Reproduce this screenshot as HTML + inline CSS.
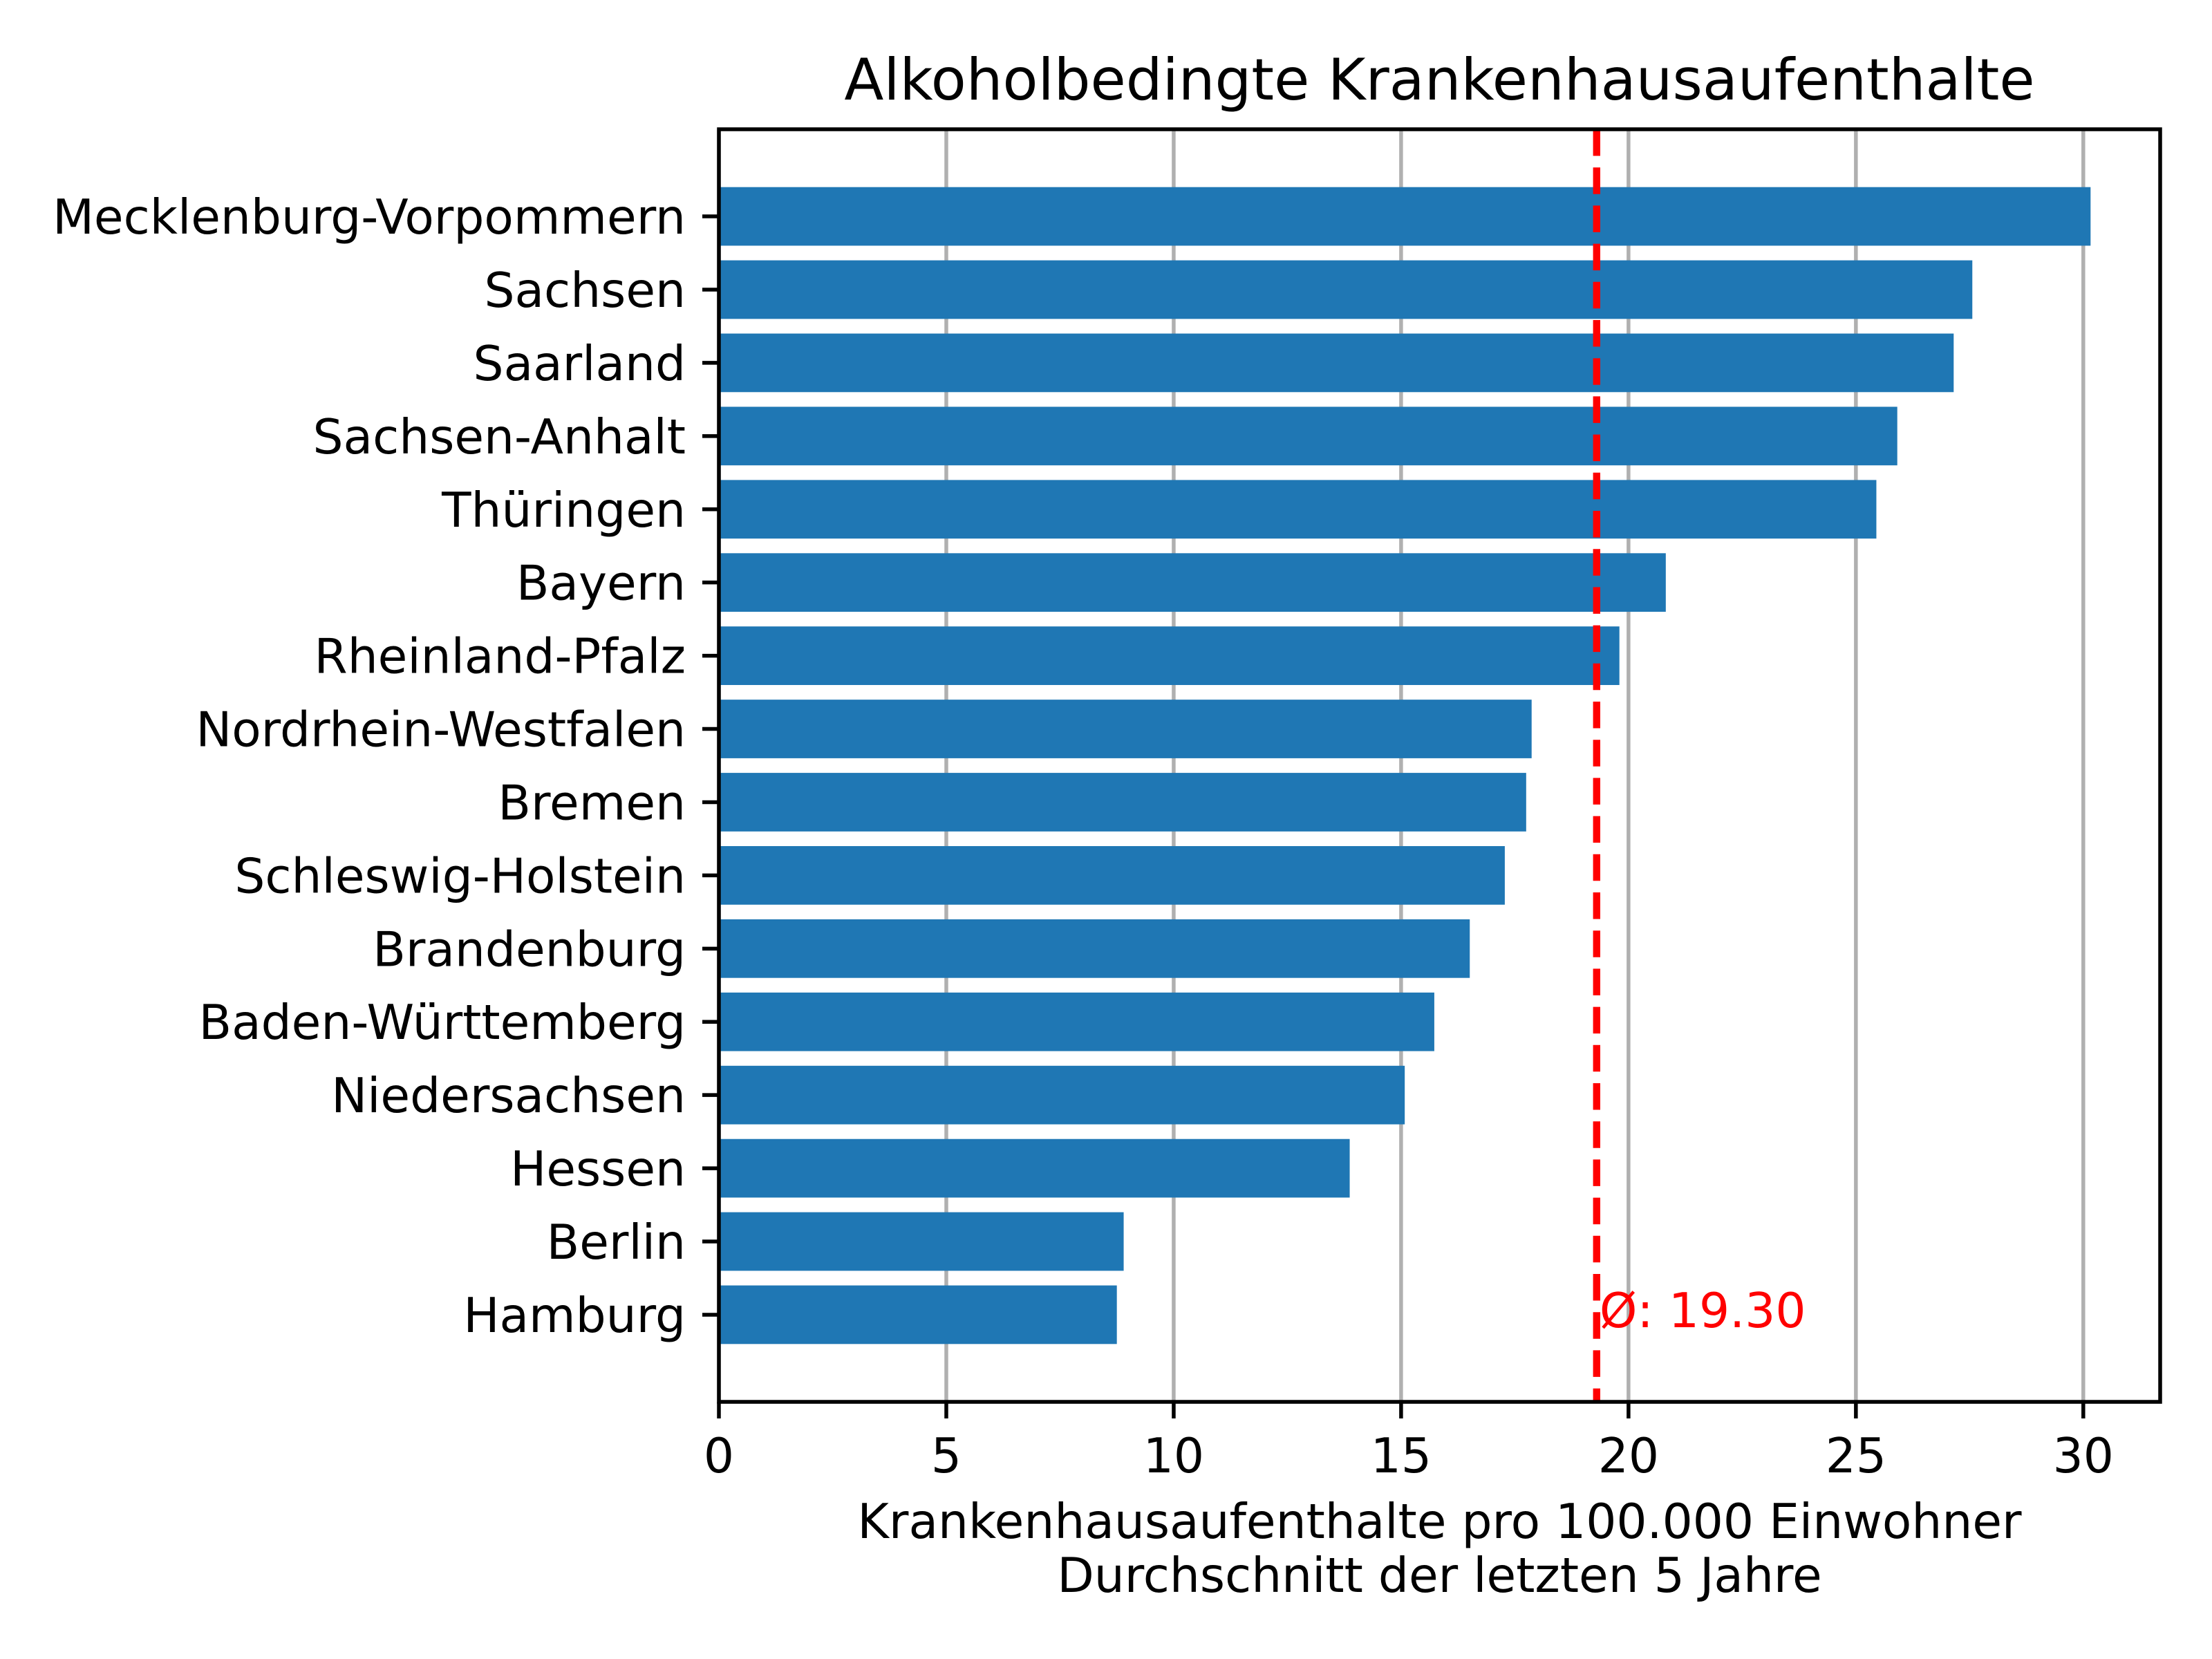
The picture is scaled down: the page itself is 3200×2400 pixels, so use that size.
<!DOCTYPE html>
<html><head><meta charset="utf-8"><style>
html,body{margin:0;padding:0;background:#fff;}
svg{display:block;font-family:"DejaVu Sans","Liberation Sans",sans-serif;}
</style></head><body>
<svg id="chart" width="3200" height="2400" viewBox="0 0 3200 2400" xmlns="http://www.w3.org/2000/svg">
<rect width="3200" height="2400" fill="#fff"/>
<g id="grid"></g><g id="bars"></g><g id="axes"></g><g id="labels"></g>
</svg>
<script>
const categories = ["Mecklenburg-Vorpommern","Sachsen","Saarland","Sachsen-Anhalt","Thüringen","Bayern","Rheinland-Pfalz","Nordrhein-Westfalen","Bremen","Schleswig-Holstein","Brandenburg","Baden-Württemberg","Niedersachsen","Hessen","Berlin","Hamburg"];
const values = [30.16,27.56,27.15,25.91,25.45,20.82,19.80,17.87,17.75,17.28,16.51,15.73,15.08,13.87,8.90,8.75];
const xTicks = [0,5,10,15,20,25,30];
const meanValue = 19.30;

const NS = "http://www.w3.org/2000/svg";
const L = 1040, R = 3125, T = 187, B = 2028;
const xMax = 31.69;
const yMin = -1.19, yMax = categories.length - 1 + 1.19;
const xS = v => L + (v / xMax) * (R - L);
const yS = i => T + ((i - yMin) / (yMax - yMin)) * (B - T);
const step = (B - T) / (yMax - yMin);
function mk(tag, attrs, parent, text) {
  const e = document.createElementNS(NS, tag);
  for (const k in attrs) e.setAttribute(k, attrs[k]);
  if (text !== undefined) e.textContent = text;
  parent.appendChild(e);
  return e;
}
const grid = document.getElementById('grid'), bars = document.getElementById('bars'),
      axes = document.getElementById('axes'), labels = document.getElementById('labels');
const FS = 69.4;

xTicks.forEach(t => {
  const x = xS(t);
  const g = mk('line', {x1:x, x2:x, y1:T, y2:B, stroke:'#b0b0b0', 'stroke-width':5.5}, grid);
  
  
  const tk = mk('line', {x1:x, x2:x, y1:B, y2:B+24, stroke:'#000', 'stroke-width':5.5}, axes);
  
  
  const tl = mk('text', {x:x, y:B+24+24+54, 'font-size':FS, 'text-anchor':'middle', fill:'#000'}, labels, String(t));
  
  
});

categories.forEach((c, i) => {
  const yc = yS(i), h = step * 0.8;
  const r = mk('rect', {x:xS(0), y:yc - h/2, width:xS(values[i]) - xS(0), height:h, fill:'#1f77b4'}, bars);
  
  
  const tk = mk('line', {x1:L-24, x2:L, y1:yc, y2:yc, stroke:'#000', 'stroke-width':5.5}, axes);
  
  
  const tl = mk('text', {x:L-48, y:yc + 25, 'font-size':FS, 'text-anchor':'end', fill:'#000'}, labels, c);
  
  
});

const ml = mk('line', {x1:xS(meanValue), x2:xS(meanValue), y1:T, y2:B, stroke:'#ff0000', 'stroke-width':10.4, 'stroke-dasharray':'38.5,16.7'}, bars);


const mt = mk('text', {x:xS(meanValue)+4, y:1920, 'font-size':FS, fill:'#ff0000'}, labels, 'Ø: ' + meanValue.toFixed(2));



const fr = mk('rect', {x:L, y:T, width:R-L, height:B-T, fill:'none', stroke:'#000', 'stroke-width':5.5}, axes);



const cx = (L + R) / 2;
const ti = mk('text', {x:cx, y:144, 'font-size':83.3, 'text-anchor':'middle', fill:'#000'}, labels, 'Alkoholbedingte Krankenhausaufenthalte');


const x1 = mk('text', {x:cx, y:2225, 'font-size':FS, 'text-anchor':'middle', fill:'#000'}, labels, 'Krankenhausaufenthalte pro 100.000 Einwohner');


const x2 = mk('text', {x:cx, y:2303, 'font-size':FS, 'text-anchor':'middle', fill:'#000'}, labels, 'Durchschnitt der letzten 5 Jahre');


</script>
</body></html>
